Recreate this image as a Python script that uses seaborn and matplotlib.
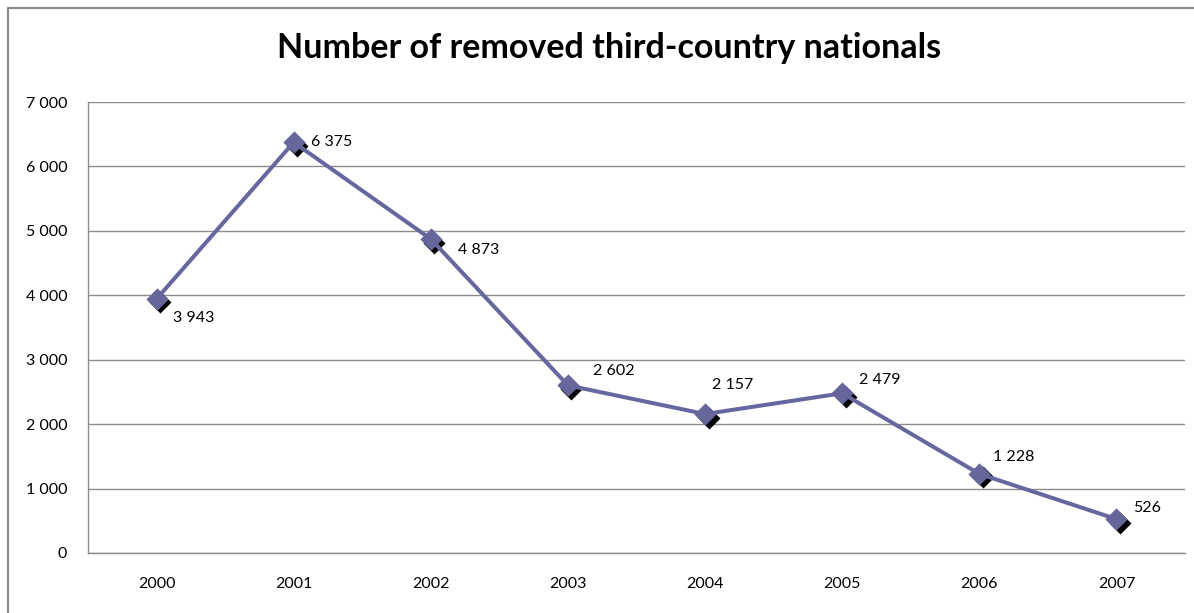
import matplotlib
matplotlib.use("Agg")
import matplotlib.pyplot as plt
import matplotlib.transforms as mtransforms
from matplotlib.lines import Line2D
import seaborn as sns
import pandas as pd

years = ["2000", "2001", "2002", "2003", "2004", "2005", "2006", "2007"]
removed = [3943, 6375, 4873, 2602, 2157, 2479, 1228, 526]
y_ticks = [0, 1000, 2000, 3000, 4000, 5000, 6000, 7000]
title = "Number of removed third-country nationals"

# label offsets in pixels (dx right, dy up)
label_offsets = [(16, -19), (17, 0), (27, -11), (25, 14), (7, 29), (17, 13), (14, 17), (17, 11)]

sns.set_theme(style="white")
plt.rcParams['font.family'] = ['Lato', 'DejaVu Sans']

df = pd.DataFrame({"year": years, "removed": removed})

fig = plt.figure(figsize=(11.94, 6.13), dpi=100)
ax = fig.add_axes([88/1194, 1-553/613, (1185-88)/1194, (553-102)/613])

line_col = "#6767A0"
# shadow markers
n0 = len(ax.lines)
sns.pointplot(data=df, x="year", y="removed", ax=ax, color="black", errorbar=None,
              markers="D", linestyles="none", markersize=9)
offset = mtransforms.ScaledTranslation(3.5/100, -3.5/100, fig.dpi_scale_trans)
for ln in ax.lines[n0:]:
    ln.set_transform(ax.transData + offset)
    ln.set_zorder(3)
    ln.set_markerfacecolor("black")
    ln.set_markeredgecolor("black")
n1 = len(ax.lines)
sns.pointplot(data=df, x="year", y="removed", ax=ax, color=line_col, errorbar=None,
              markers="D", linestyles="-", markersize=9, linewidth=2.9)
for ln in ax.lines[n1:]:
    ln.set_zorder(4)
    ln.set_markerfacecolor("#66669A")
    ln.set_markeredgecolor("#66669A")

for i, (v, (dx, dy)) in enumerate(zip(removed, label_offsets)):
    ax.annotate(f"{v:,}".replace(",", " "), xy=(i, v), xytext=(dx*0.72, dy*0.72),
                textcoords="offset points", ha="left", va="center", fontsize=11.5,
                color="black", zorder=5)

ax.set_ylim(0, 7000)
ax.set_xlim(-0.5, len(years) - 0.5)
ax.set_yticks(y_ticks)
ax.set_yticklabels([f"{t:,}".replace(",", " ") for t in y_ticks])
ax.tick_params(axis="y", length=0, pad=15, labelsize=11.5, colors="black")
ax.tick_params(axis="x", length=0, pad=17, labelsize=11.5, colors="black")
ax.set_xlabel("")
ax.set_ylabel("")
ax.yaxis.grid(True, color="#8C8C8C", linewidth=1.0)
ax.xaxis.grid(False)
ax.set_axisbelow(True)
for s in ["top", "right"]:
    ax.spines[s].set_visible(False)
for s in ["left", "bottom"]:
    ax.spines[s].set_visible(True)
    ax.spines[s].set_color("#8C8C8C")
    ax.spines[s].set_linewidth(1.0)

fig.text(609/1194, 1-48/613, title, ha="center", va="center", fontsize=24.5,
         fontweight="bold", color="black")

# outer chart border
fig.add_artist(Line2D([7.5/1194, 7.5/1194], [1-7.5/613, -0.1], transform=fig.transFigure,
                      color="#8C8C8C", linewidth=1.6))
fig.add_artist(Line2D([7.5/1194, 1.1], [1-7.5/613, 1-7.5/613], transform=fig.transFigure,
                      color="#8C8C8C", linewidth=1.6))

fig.savefig("out.png", dpi=100)
